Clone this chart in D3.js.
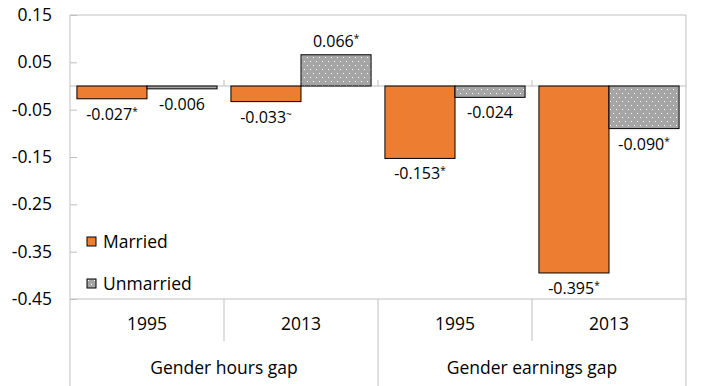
<!doctype html>
<html>
<head>
<meta charset="utf-8">
<title>Gender gaps</title>
<style>
  body { margin: 0; background: #fff; }
  text { font-family: "Open Sans", "Noto Sans", sans-serif; fill: #000; }
</style>
</head>
<body>
<div id="here"></div>
<script src="https://d3js.org/d3.v7.min.js"></script>
<script>
  // datos
  var groups = ['Gender hours gap', 'Gender earnings gap'];
  var years = ['1995', '2013'];
  var series = ['Married', 'Unmarried'];
  var married = [-0.027, -0.033, -0.153, -0.395];
  var unmarried = [-0.006, 0.066, -0.024, -0.090];
  var marriedMark = ['*', '~', '*', '*'];
  var unmarriedMark = ['', '*', '', '*'];
  var yTicks = [0.15, 0.05, -0.05, -0.15, -0.25, -0.35, -0.45];

  var w = 701, h = 386;
  var pLeft = 70, pRight = 686, pTop = 15, pBottom = 299;

  var cats = [];
  groups.forEach(function(g) { years.forEach(function(y) { cats.push(g + '|' + y); }); });

  var svg = d3.select('#here').append('svg')
    .attr('width', w).attr('height', h);

  // patrón de puntos
  var pat = svg.append('defs').append('pattern')
    .attr('id', 'dots').attr('patternUnits', 'userSpaceOnUse')
    .attr('width', 6).attr('height', 8);
  pat.append('rect').attr('width', 6).attr('height', 8).attr('fill', '#A5A5A5');
  pat.append('rect').attr('x', 1).attr('y', 1).attr('width', 1).attr('height', 1).attr('fill', '#fff');
  pat.append('rect').attr('x', 4).attr('y', 5).attr('width', 1).attr('height', 1).attr('fill', '#fff');

  var y = d3.scaleLinear().domain([-0.45, 0.15]).range([pBottom, pTop]);
  var x = d3.scaleBand().domain(cats).range([pLeft, pRight]).paddingInner(0.09).paddingOuter(0.045);
  var xs = d3.scaleBand().domain(series).range([0, x.bandwidth()]);
  var step = (pRight - pLeft) / cats.length;

  var grey = '#BFBFBF';

  // eje y
  var yAxis = svg.append('g').attr('transform', 'translate(' + pLeft + ',0)')
    .call(d3.axisLeft(y).tickValues(yTicks).tickSize(-7).tickPadding(18));
  yAxis.select('.domain').remove();
  yAxis.selectAll('line').attr('stroke', grey);
  yAxis.selectAll('text').style('font-size', '17.5px').attr('fill', '#000')
    .text(function(d) { return d3.format('.2f')(d).replace('−', '-'); });

  // marco
  svg.append('line').attr('x1', pLeft).attr('x2', pLeft).attr('y1', pTop).attr('y2', h).attr('stroke', grey);
  svg.append('line').attr('x1', pRight).attr('x2', pRight).attr('y1', pTop).attr('y2', h).attr('stroke', grey);
  svg.append('line').attr('x1', pLeft).attr('x2', pRight).attr('y1', pTop).attr('y2', pTop).attr('stroke', grey);
  svg.append('line').attr('x1', pLeft).attr('x2', pRight).attr('y1', pBottom).attr('y2', pBottom).attr('stroke', grey);
  svg.append('line').attr('x1', pLeft + step * 2).attr('x2', pLeft + step * 2).attr('y1', pBottom).attr('y2', h).attr('stroke', grey);
  [1, 3].forEach(function(i) {
    svg.append('line').attr('x1', pLeft + step * i).attr('x2', pLeft + step * i)
      .attr('y1', pBottom).attr('y2', 341).attr('stroke', grey);
  });

  // linea cero y ticks
  svg.append('line').attr('x1', pLeft).attr('x2', pRight).attr('y1', y(0)).attr('y2', y(0)).attr('stroke', grey);
  [1, 2, 3].forEach(function(i) {
    svg.append('line').attr('x1', pLeft + step * i).attr('x2', pLeft + step * i)
      .attr('y1', y(0) - 6).attr('y2', y(0)).attr('stroke', grey);
  });

  // barras
  var rows = [];
  cats.forEach(function(c, i) {
    rows.push({cat: c, s: 'Married', v: married[i], m: marriedMark[i]});
    rows.push({cat: c, s: 'Unmarried', v: unmarried[i], m: unmarriedMark[i]});
  });

  svg.selectAll('.bar').data(rows).enter().append('rect')
    .attr('x', function(d) { return x(d.cat) + xs(d.s); })
    .attr('y', function(d) { return y(Math.max(0, d.v)); })
    .attr('width', xs.bandwidth())
    .attr('height', function(d) { return Math.abs(y(d.v) - y(0)); })
    .attr('fill', function(d) { return d.s == 'Married' ? '#ED7D31' : 'url(#dots)'; })
    .attr('stroke', '#000').attr('stroke-width', 1);

  // etiquetas
  var lab = svg.selectAll('.lab').data(rows).enter().append('text')
    .attr('x', function(d) { return x(d.cat) + xs(d.s) + xs.bandwidth() / 2; })
    .attr('y', function(d) { return d.v >= 0 ? y(d.v) - 8 : y(d.v) + 21; })
    .attr('text-anchor', 'middle')
    .style('font-size', '16px');
  lab.append('tspan').text(function(d) { return d3.format('.3f')(d.v).replace('−', '-'); });
  lab.append('tspan').attr('dy', -5).style('font-size', '10px').text(function(d) { return d.m; });

  // categorias
  svg.selectAll('.yr').data(cats).enter().append('text')
    .attr('x', function(d) { return x(d) + x.bandwidth() / 2; })
    .attr('y', 330)
    .attr('text-anchor', 'middle').style('font-size', '17.5px')
    .text(function(d) { return d.split('|')[1]; });
  svg.selectAll('.grp').data(groups).enter().append('text')
    .attr('x', function(d, i) { return pLeft + step * (2 * i + 1); })
    .attr('y', 374)
    .attr('text-anchor', 'middle').style('font-size', '17.5px')
    .text(function(d) { return d; });

  // leyenda
  var leg = svg.selectAll('.leg').data(series).enter().append('g')
    .attr('transform', function(d, i) { return 'translate(87,' + (237 + i * 42) + ')'; });
  leg.append('rect').attr('width', 9).attr('height', 9)
    .attr('fill', function(d) { return d == 'Married' ? '#ED7D31' : 'url(#dots)'; })
    .attr('stroke', '#000');
  leg.append('text').attr('x', 16).attr('y', 11).style('font-size', '17.5px').text(function(d) { return d; });
</script>
</body>
</html>
